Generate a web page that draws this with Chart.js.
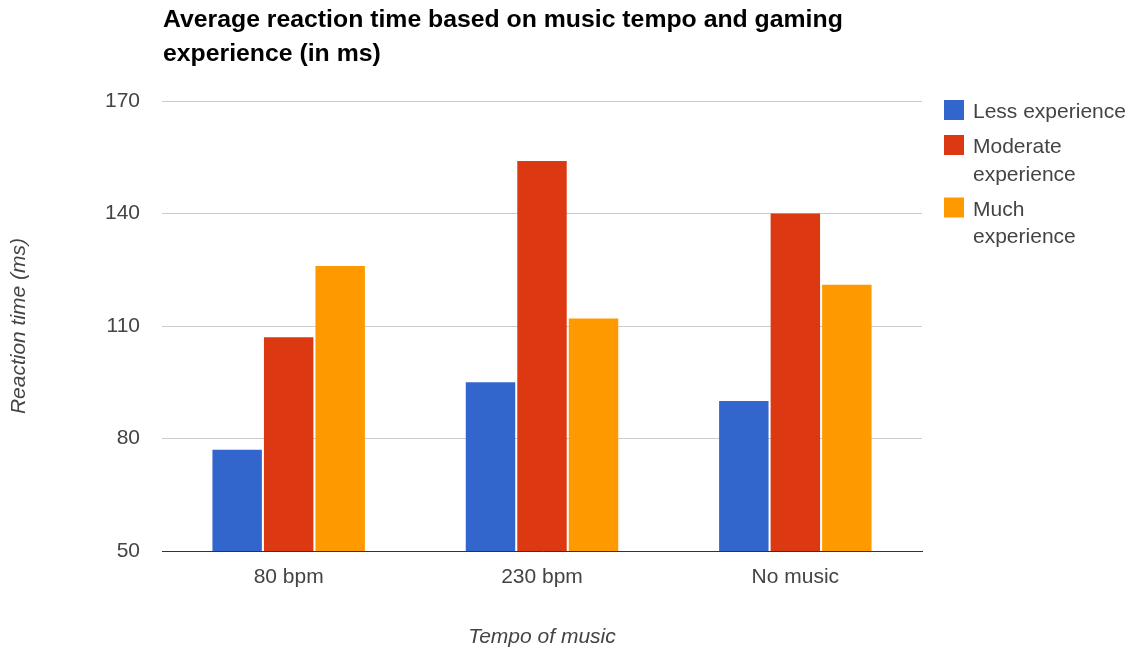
<!DOCTYPE html>
<html><head><meta charset="utf-8">
<script src="https://cdn.jsdelivr.net/npm/chart.js@4/dist/chart.umd.min.js"></script>
<style>html,body{margin:0;padding:0;background:#fff}#wrap{width:1136px;height:652px;position:relative}</style>
</head><body><div id="wrap"><canvas id="c" width="1136" height="652"></canvas></div>
<script>
const categories = ['80 bpm', '230 bpm', 'No music'];
const lessExperience = [77, 95, 90];
const moderateExperience = [107, 154, 140];
const muchExperience = [126, 112, 121];
const yTicks = [50, 80, 110, 140, 170];
const seriesNames = ['Less experience', 'Moderate experience', 'Much experience'];
const seriesColors = ['#3366CC', '#DC3912', '#FF9900'];
const titleLines = ['Average reaction time based on music tempo and gaming', 'experience (in ms)'];
const xTitle = 'Tempo of music';
const yTitle = 'Reaction time (ms)';

const FONT = '"Liberation Sans", Arial, sans-serif';

const titlePlugin = {
  id: 'customTitle',
  afterDraw(chart) {
    const ctx = chart.ctx;
    ctx.save();
    ctx.fillStyle = '#000';
    ctx.font = 'bold 24.8px ' + FONT;
    ctx.textAlign = 'left';
    ctx.textBaseline = 'alphabetic';
    titleLines.forEach((t, i) => ctx.fillText(t, 163, 27 + i * 34));
    ctx.restore();
  }
};

const legendPlugin = {
  id: 'customLegend',
  afterDraw(chart) {
    const ctx = chart.ctx;
    ctx.save();
    ctx.font = '21px ' + FONT;
    ctx.textAlign = 'left';
    ctx.textBaseline = 'alphabetic';
    const boxX = 944, textX = 973, maxW = 157;
    let top = 100;
    chart.data.datasets.forEach(ds => {
      const words = ds.label.split(' ');
      const lines = [];
      let cur = '';
      words.forEach(w => {
        const test = cur ? cur + ' ' + w : w;
        if (cur && ctx.measureText(test).width > maxW) { lines.push(cur); cur = w; }
        else cur = test;
      });
      if (cur) lines.push(cur);
      ctx.fillStyle = ds.backgroundColor;
      ctx.fillRect(boxX, top, 20, 20);
      ctx.fillStyle = '#444';
      let base = top + 18;
      lines.forEach((l, i) => { ctx.fillText(l, textX, base); if (i < lines.length - 1) base += 27.5; });
      top = base + 35 - 18;
    });
    ctx.restore();
  }
};

const data = {
  labels: categories,
  datasets: [
    { label: seriesNames[0], data: lessExperience, backgroundColor: seriesColors[0] },
    { label: seriesNames[1], data: moderateExperience, backgroundColor: seriesColors[1] },
    { label: seriesNames[2], data: muchExperience, backgroundColor: seriesColors[2] }
  ]
};

new Chart(document.getElementById('c'), {
  type: 'bar',
  data,
  options: {
    responsive: false,
    animation: false,
    devicePixelRatio: 1,
    layout: { padding: { left: 0, right: 214, top: 101, bottom: 0 } },
    datasets: { bar: { categoryPercentage: 0.61, barPercentage: 0.96 } },
    plugins: { legend: { display: false }, title: { display: false }, tooltip: { enabled: false } },
    scales: {
      x: {
        grid: { display: false, drawTicks: false },
        border: { display: true, color: '#333', width: 1 },
        ticks: { color: '#444', font: { family: FONT, size: 21 }, padding: 14 },
        title: { display: true, text: xTitle, color: '#444', font: { family: FONT, size: 21, style: 'italic' }, padding: { top: 0, bottom: 2 } },
        afterFit(scale) { scale.height = 101; }
      },
      y: {
        min: yTicks[0],
        max: yTicks[yTicks.length - 1],
        afterBuildTicks(scale) { scale.ticks = yTicks.map(v => ({ value: v })); },
        grid: { color: '#ccc', drawTicks: false },
        border: { display: false },
        ticks: { color: '#444', font: { family: FONT, size: 21 }, padding: 22 },
        title: { display: true, text: yTitle, color: '#444', font: { family: FONT, size: 21, style: 'italic' }, padding: { top: 7, bottom: 0 } },
        afterFit(scale) { scale.width = 162; }
      }
    }
  },
  plugins: [titlePlugin, legendPlugin]
});
</script>
</body></html>
